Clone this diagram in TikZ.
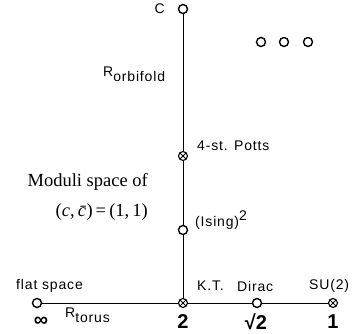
\documentclass[tikz,border=0pt]{standalone}
\usepackage{fontspec}
\setmainfont{Liberation Serif}
\newfontfamily\lab[LetterSpace=6]{Liberation Sans}
\newfontfamily\numf{Liberation Sans}
\begin{document}
\begin{tikzpicture}[x=1pt,y=-1pt,
  ring/.style={circle,draw,line width=1.4pt,fill=white,minimum size=9pt,inner sep=0pt},
  xring/.style={ring,line width=1.1pt,path picture={\draw[line width=0.8pt]
     (path picture bounding box.north west)--(path picture bounding box.south east)
     (path picture bounding box.north east)--(path picture bounding box.south west);}},
  lbl/.style={font=\lab\fontsize{14}{16}\selectfont,inner sep=0pt},
  num/.style={font=\numf\bfseries\fontsize{20}{22}\selectfont,inner sep=0pt},
  serif/.style={font=\fontsize{18.5}{21}\selectfont,inner sep=0pt},
  axis/.style={line width=0.9pt}]
\useasboundingbox (0,0) rectangle (360,334);
% points
\coordinate (c0) at (183,9);
\coordinate (p0) at (183,156);
\coordinate (i0) at (183,230);
\coordinate (t0) at (183,303);
\coordinate (f0) at (37,303);
\coordinate (d0) at (257,303);
\coordinate (s0) at (333,303);
\draw[axis] (c0) -- (t0);
\draw[axis] (f0) -- (s0);
\node[ring] (c) at (c0) {};
\node[xring] (p) at (p0) {};
\node[ring] (i) at (i0) {};
\node[xring] (t) at (t0) {};
\node[ring] (f) at (f0) {};
\node[ring] (d) at (d0) {};
\node[xring] (s) at (s0) {};
\node[ring] (e1) at (261,42) {};
\node[ring] (e2) at (284,42) {};
\node[ring] (e3) at (308,42) {};
% labels
\node[lbl,anchor=east] (lc) at (165,9) {C};
\node[lbl,anchor=west] (lorb) at (103,74) {R\raisebox{-5pt}{orbifold}};
\node[lbl,anchor=west] (lp) at (197,146) {4-st. Potts};
\node[lbl,anchor=west] (li) at (195,220) {(Ising)\raisebox{6pt}{2}};
\node[serif,anchor=east] (m1) at (148,182) {Moduli space of};
\node[serif,anchor=east] (m2) at (148,212) {(\textit{c},\,\textit{c̄}\kern-4pt)\,=\,(1,\,1)};
\node[lbl,anchor=west] (lf) at (16,286) {flat space};
\node[lbl,anchor=west] (lk) at (197,286) {K.T.};
\node[lbl,anchor=west] (ld) at (237,286) {Dirac};
\node[lbl,anchor=west] (ls) at (309,286) {SU(2)};
\node[lbl,anchor=west] (lt) at (65,315) {R\raisebox{-5pt}{torus}};
\node[num] (ninf) at (41,322) {∞};
\node[num] (n2) at (183,322) {2};
\node[num] (nr2) at (256,322) {√2};
\node[num] (n1) at (333,322) {1};
\end{tikzpicture}
\end{document}
